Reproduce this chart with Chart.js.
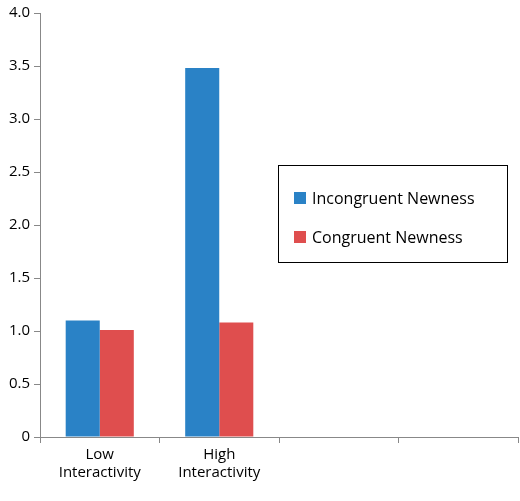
<!DOCTYPE html>
<html><head><script src="https://cdn.jsdelivr.net/npm/chart.js@4"></script>
<style>body{margin:0;background:#fff}#w{position:relative;width:520px;height:501px}
#lg{position:absolute;left:278px;top:165px;width:230px;height:98px;border:1.5px solid #000;font-family:'Open Sans',sans-serif;font-size:16px;color:#000;box-sizing:border-box}
.it{position:absolute;left:15px;display:flex;align-items:center}.sw{width:12px;height:12px;margin-right:6px}</style></head>
<body><div id="w"><canvas id="c" width="520" height="501"></canvas>
<div id="lg"><div class="it" style="top:21px"><div class="sw" style="background:#2a82c6"></div>Incongruent Newness</div>
<div class="it" style="top:60px"><div class="sw" style="background:#df4e4e"></div>Congruent Newness</div></div></div>
<script>
const categories=[["Low","Interactivity"],["High","Interactivity"],"",""];
const incongruent=[1.1,3.48,null,null];
const congruent=[1.01,1.08,null,null];
const yTicks=[0,0.5,1,1.5,2,2.5,3,3.5,4];
const font={family:"'Open Sans',sans-serif",size:15};
new Chart(document.getElementById('c'),{type:'bar',
data:{labels:categories,datasets:[
{label:'Incongruent Newness',data:incongruent,backgroundColor:'#2a82c6',categoryPercentage:0.57,barPercentage:1},
{label:'Congruent Newness',data:congruent,backgroundColor:'#df4e4e',categoryPercentage:0.57,barPercentage:1}]},
options:{responsive:false,animation:false,layout:{padding:{top:4,right:2}},
plugins:{legend:{display:false},tooltip:{enabled:false}},
scales:{
x:{grid:{offset:true,drawOnChartArea:false,tickLength:6,color:'#888'},border:{color:'#888'},ticks:{color:'#000',font},afterFit:s=>{s.height=64}},
y:{min:0,max:4,afterBuildTicks:a=>{a.ticks=yTicks.map(v=>({value:v}))},grid:{drawOnChartArea:false,tickLength:6,color:'#888'},border:{color:'#888'},ticks:{color:'#000',font,padding:4},afterFit:s=>{s.width=40}}}}});
</script></body></html>
